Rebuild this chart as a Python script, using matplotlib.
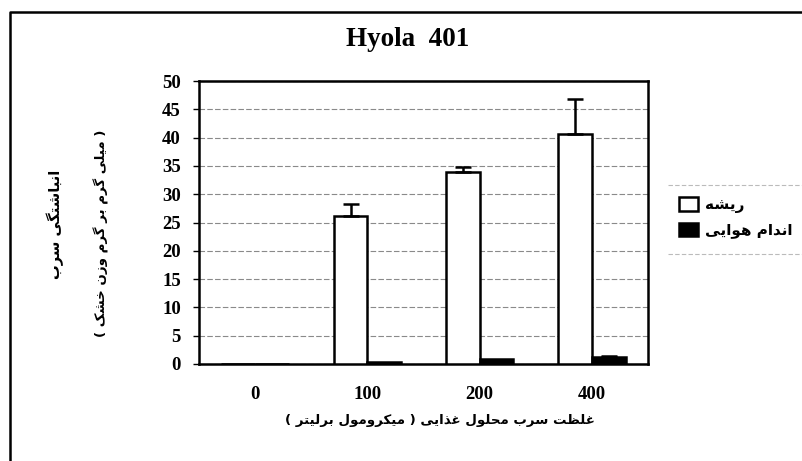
import numpy as np
import matplotlib
matplotlib.use("Agg")
import matplotlib.pyplot as plt
from matplotlib.lines import Line2D

# ---------------- data ----------------
categories = ["0", "100", "200", "400"]
root_values = [0.0, 26.1, 33.9, 40.6]
root_errors = [0.0, 2.2, 0.9, 6.2]
shoot_values = [0.0, 0.3, 0.8, 1.2]
shoot_errors = [0.0, 0.0, 0.0, 0.25]
yticks = [0, 5, 10, 15, 20, 25, 30, 35, 40, 45, 50]

title_text = "Hyola  401"
root_label = "ریشه"
shoot_label = "اندام هوایی"
xlabel_text = "غلظت سرب محلول غذایی ( میکرومول برلیتر )"
ylabel_line1 = "انباشتگی سرب"
ylabel_line2 = "( میلی گرم بر گرم وزن خشک )"

# ---------------- minimal Persian shaping (no shaping engine in matplotlib) ----------------
# char: (isolated, final, initial, medial); None -> right-joining only
FORMS = {
    "ا": ("\uFE8D", "\uFE8E", None, None),
    "ب": ("\uFE8F", "\uFE90", "\uFE91", "\uFE92"),
    "ت": ("\uFE95", "\uFE96", "\uFE97", "\uFE98"),
    "ح": ("\uFEA1", "\uFEA2", "\uFEA3", "\uFEA4"),
    "خ": ("\uFEA5", "\uFEA6", "\uFEA7", "\uFEA8"),
    "د": ("\uFEA9", "\uFEAA", None, None),
    "ذ": ("\uFEAB", "\uFEAC", None, None),
    "ر": ("\uFEAD", "\uFEAE", None, None),
    "ز": ("\uFEAF", "\uFEB0", None, None),
    "س": ("\uFEB1", "\uFEB2", "\uFEB3", "\uFEB4"),
    "ش": ("\uFEB5", "\uFEB6", "\uFEB7", "\uFEB8"),
    "ظ": ("\uFEC5", "\uFEC6", "\uFEC7", "\uFEC8"),
    "غ": ("\uFECD", "\uFECE", "\uFECF", "\uFED0"),
    "ل": ("\uFEDD", "\uFEDE", "\uFEDF", "\uFEE0"),
    "م": ("\uFEE1", "\uFEE2", "\uFEE3", "\uFEE4"),
    "ن": ("\uFEE5", "\uFEE6", "\uFEE7", "\uFEE8"),
    "ه": ("\uFEE9", "\uFEEA", "\uFEEB", "\uFEEC"),
    "و": ("\uFEED", "\uFEEE", None, None),
    "ی": ("\uFBFC", "\uFBFD", "\uFBFE", "\uFBFF"),
    "ک": ("\uFB8E", "\uFB8F", "\uFB90", "\uFB91"),
    "گ": ("\uFB92", "\uFB93", "\uFB94", "\uFB95"),
}
MIRROR = {"(": ")", ")": "("}


def shape_rtl(text):
    out = []
    n = len(text)
    for i, c in enumerate(text):
        if c not in FORMS:
            out.append(MIRROR.get(c, c))
            continue
        iso, fin, ini, med = FORMS[c]
        prev = text[i - 1] if i > 0 else ""
        nxt = text[i + 1] if i < n - 1 else ""
        pj = prev in FORMS and FORMS[prev][2] is not None
        nj = nxt in FORMS and ini is not None
        if pj and nj:
            out.append(med)
        elif pj:
            out.append(fin)
        elif nj:
            out.append(ini)
        else:
            out.append(iso)
    return "".join(reversed(out))


# ---------------- figure ----------------
W, H = 802, 461
fig = plt.figure(figsize=(W / 100, H / 100), dpi=100)
fig.patch.set_facecolor("white")

ax = fig.add_axes([199 / W, 1 - 364 / H, 449 / W, 283 / H])

x = np.arange(len(categories))
bw = 0.3
ax.bar(x - bw / 2, root_values, width=bw, color="white", edgecolor="black",
       linewidth=1.8, label=shape_rtl(root_label), zorder=3)
ax.bar(x + bw / 2, shoot_values, width=bw, color="black", edgecolor="black",
       linewidth=1.8, label=shape_rtl(shoot_label), zorder=3)

# error bars (upper only), drawn only where there is an error
for xs, vals, errs in ((x - bw / 2, root_values, root_errors),
                       (x + bw / 2, shoot_values, shoot_errors)):
    idx = [i for i, e in enumerate(errs) if e > 0]
    if idx:
        ax.errorbar(xs[idx], np.array(vals)[idx],
                    yerr=[np.zeros(len(idx)), np.array(errs)[idx]],
                    fmt="none", ecolor="black", elinewidth=1.8, capsize=5.5,
                    capthick=1.8, zorder=4)

ax.set_xlim(-0.5, len(categories) - 0.5)
ax.set_ylim(0, 50)
ax.set_yticks(yticks)
ax.set_xticks(x)
ax.set_xticklabels(categories)
ax.yaxis.grid(True, color="#8a8a8a", linestyle=(0, (5, 2)), linewidth=0.8, zorder=0)
ax.set_axisbelow(True)
for s in ax.spines.values():
    s.set_linewidth(1.8)
    s.set_color("black")

serif = "Liberation Serif"
ax.tick_params(axis="y", length=4, width=1.0, pad=9, direction="out")
ax.tick_params(axis="x", length=0, pad=16)
for lab in ax.get_yticklabels() + ax.get_xticklabels():
    lab.set_fontfamily(serif)
    lab.set_fontweight("bold")
    lab.set_fontsize(13.5)

# title
fig.text(408 / W, 1 - 39 / H, title_text, ha="center", va="center",
         fontfamily=serif, fontweight="bold", fontsize=19.5)

# axis labels (Persian)
pfont = ["DejaVu Sans"]
fig.text(440 / W, 1 - 420 / H, shape_rtl(xlabel_text), ha="center", va="center",
         family=pfont, fontweight="bold", fontsize=9.6)
fig.text(55 / W, 1 - 224 / H, shape_rtl(ylabel_line1), ha="center", va="center",
         rotation=90, family=pfont, fontweight="bold", fontsize=10.5)
fig.text(101 / W, 1 - 233 / H, shape_rtl(ylabel_line2), ha="center", va="center",
         rotation=90, family=pfont, fontweight="bold", fontsize=9.6)

# legend
leg = ax.legend(loc="upper left", bbox_to_anchor=(679 / W, 1 - 197 / H),
                bbox_transform=fig.transFigure, frameon=False, borderpad=0,
                borderaxespad=0, handlelength=1.25, handleheight=1.0,
                handletextpad=0.45, labelspacing=0.62,
                prop={"family": pfont, "weight": "bold", "size": 11})

# faint legend frame lines
for yy in (185, 254):
    fig.add_artist(Line2D([668 / W, 1.0], [1 - yy / H, 1 - yy / H],
                          transform=fig.transFigure, color="#bbbbbb",
                          linewidth=0.8, linestyle=(0, (4, 2))))

# outer frame (left and top visible)
fig.add_artist(Line2D([10 / W, 10 / W, 1.0], [0.0, 1 - 12 / H, 1 - 12 / H],
                      transform=fig.transFigure, color="black", linewidth=1.8))

fig.savefig("out.png", dpi=100, facecolor="white")
